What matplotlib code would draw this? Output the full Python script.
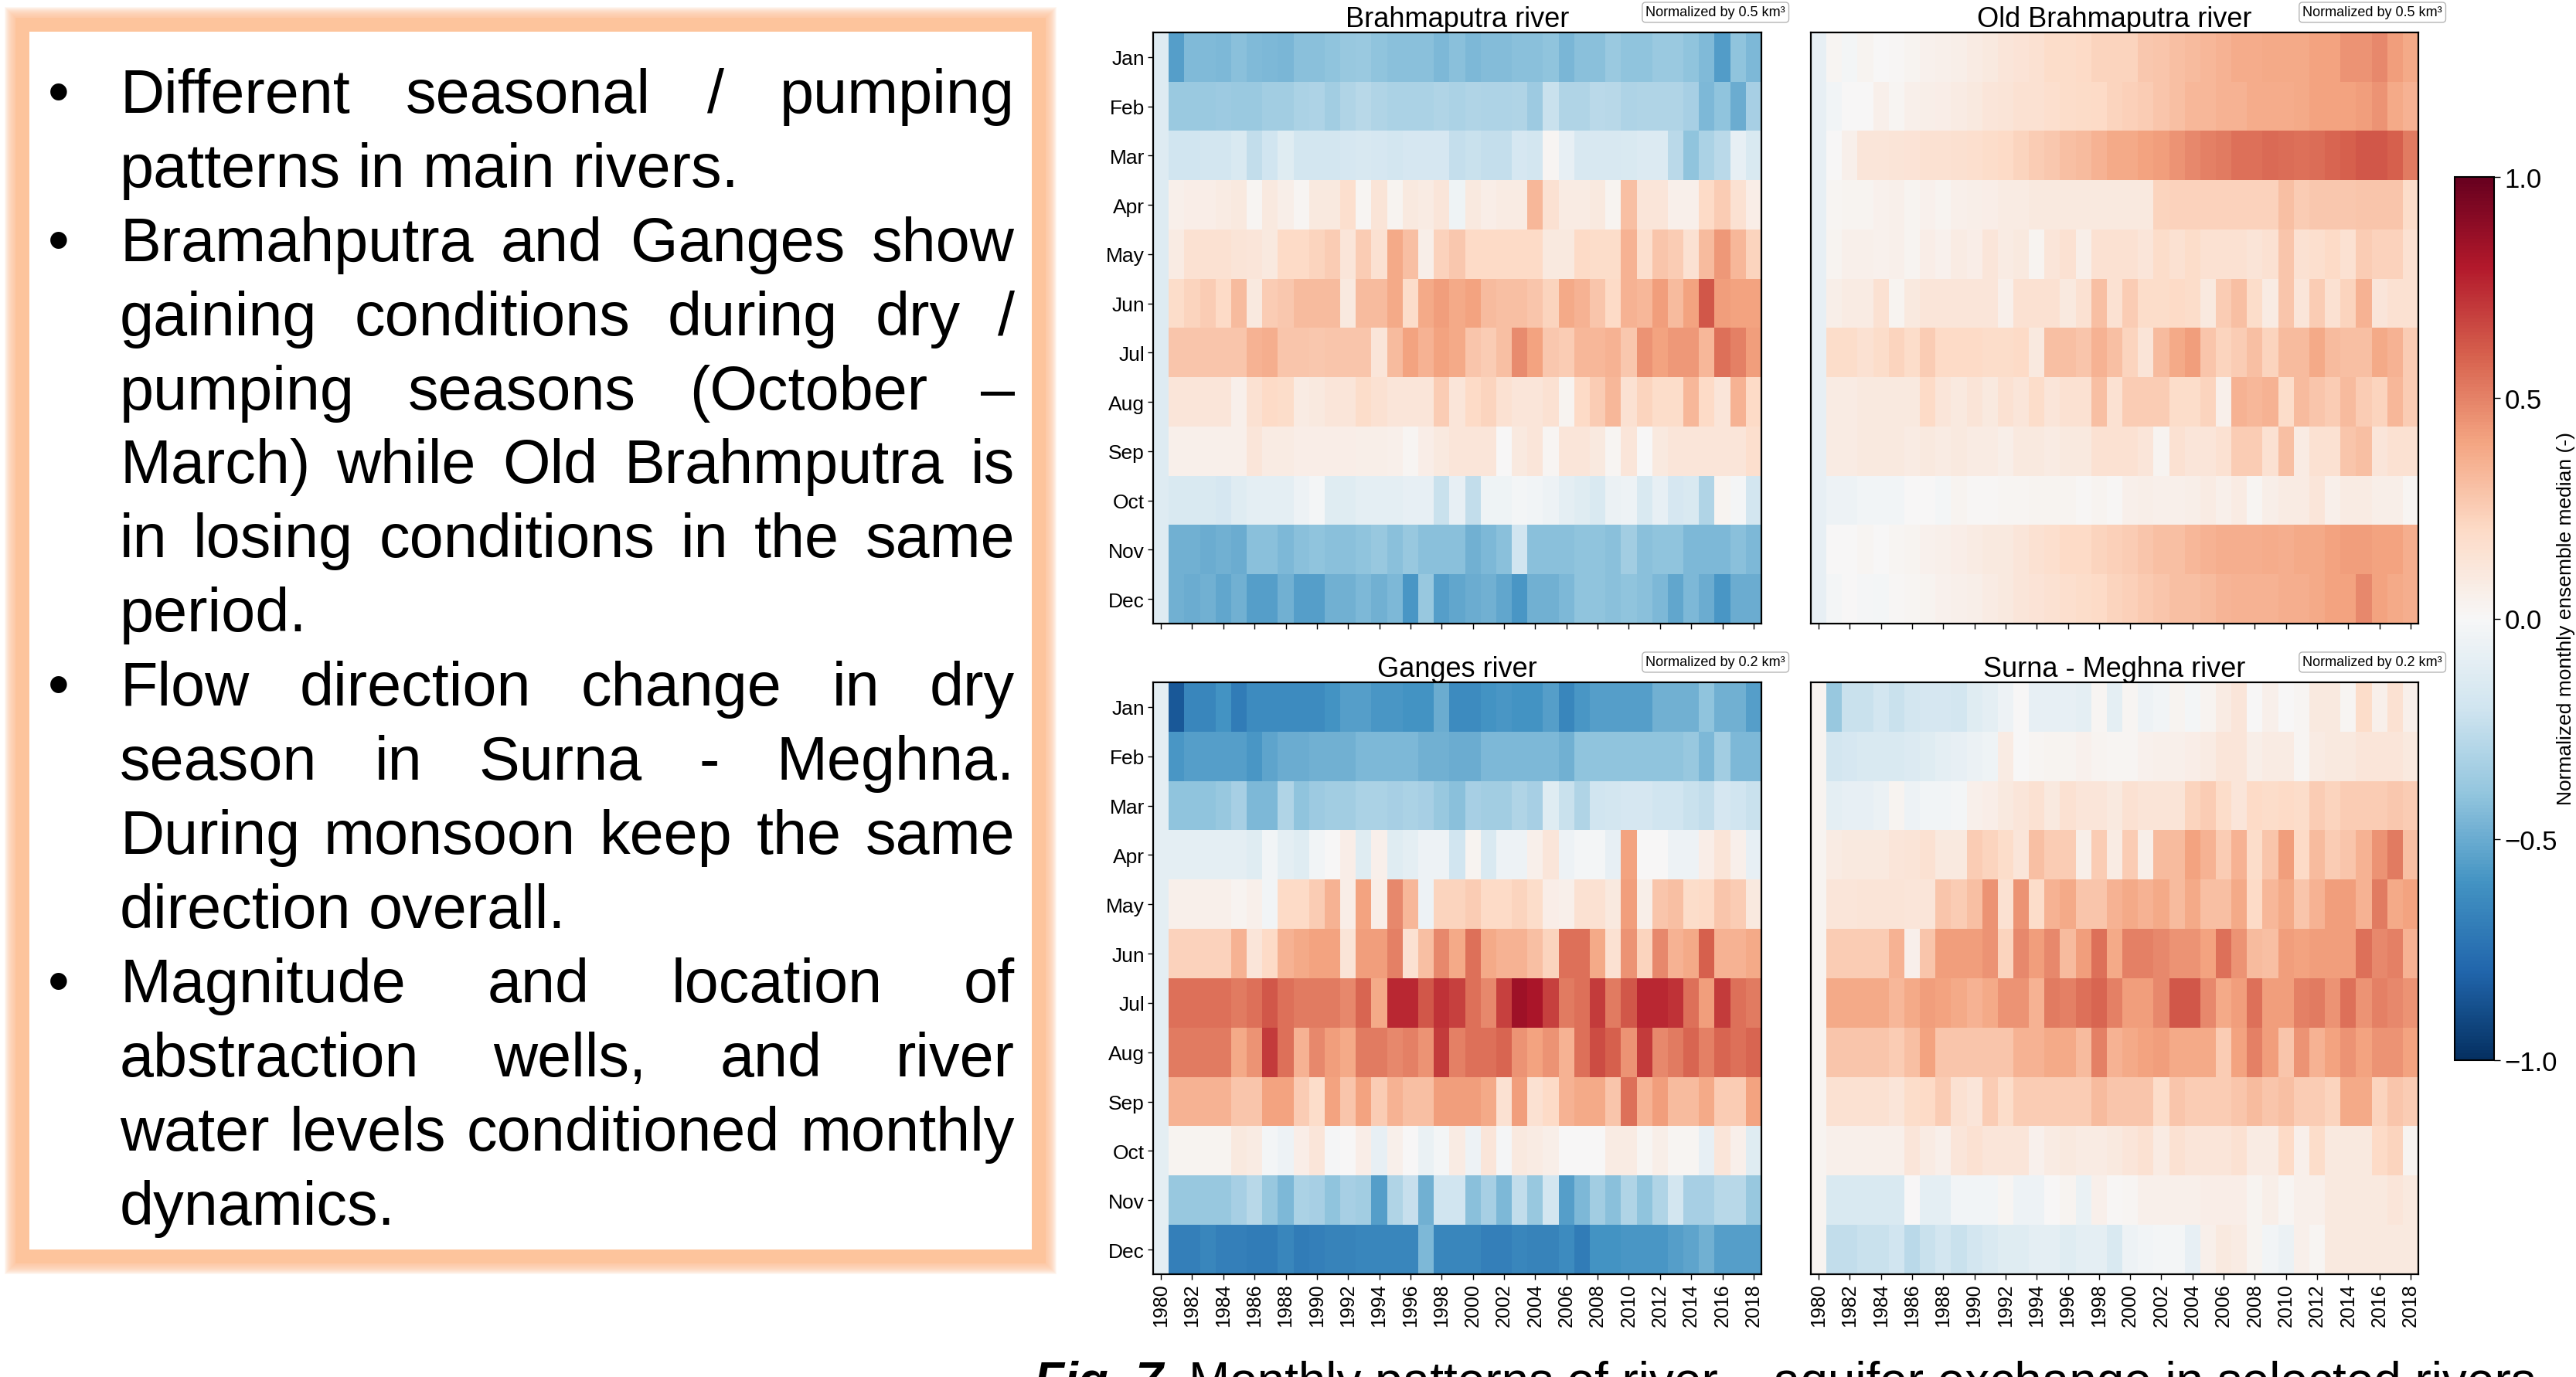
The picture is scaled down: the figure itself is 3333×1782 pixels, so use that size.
import matplotlib
matplotlib.use("Agg")
import matplotlib.pyplot as plt
import numpy as np
from matplotlib.patches import Rectangle

plt.rcParams['font.family'] = ['Liberation Sans', 'DejaVu Sans']

W, H = 3333, 1783

years = list(range(1980, 2019))
months = ["Jan", "Feb", "Mar", "Apr", "May", "Jun",
          "Jul", "Aug", "Sep", "Oct", "Nov", "Dec"]

# normalized monthly ensemble median, rows Jan..Dec, columns 1980..2018
brahmaputra = [
    [-0.13, -0.55,-0.44,-0.44,-0.45,-0.42,-0.44,-0.45,-0.46,-0.42,-0.42, -0.40,-0.38,-0.37,-0.40,-0.42,-0.42,-0.42,-0.45,-0.42,-0.45, -0.43,-0.43,-0.42,-0.42,-0.40,-0.46,-0.42,-0.42,-0.37,-0.40, -0.40,-0.37,-0.37,-0.40,-0.44,-0.56,-0.40,-0.45],
    [-0.13, -0.37,-0.37,-0.37,-0.36,-0.37,-0.37,-0.35,-0.35,-0.32,-0.31, -0.35,-0.30,-0.28,-0.30,-0.32,-0.32,-0.32,-0.30,-0.32,-0.30, -0.31,-0.31,-0.30,-0.36,-0.22,-0.30,-0.30,-0.27,-0.28,-0.31, -0.30,-0.30,-0.30,-0.33,-0.45,-0.40,-0.50,-0.33],
    [-0.13, -0.20,-0.20,-0.18,-0.18,-0.15,-0.25,-0.20,-0.12,-0.18,-0.18, -0.18,-0.17,-0.16,-0.17,-0.18,-0.17,-0.17,-0.17,-0.24,-0.22, -0.24,-0.24,-0.17,-0.18,0.02,-0.08,-0.16,-0.16,-0.16,-0.15, -0.14,-0.14,-0.27,-0.40,-0.32,-0.27,-0.08,-0.15],
    [-0.13, 0.05,0.07,0.07,0.08,0.10,0.02,0.10,0.06,0.02,0.10, 0.10,0.17,0.02,0.13,0.03,0.10,0.08,0.12,-0.04,0.10, 0.07,0.08,0.08,0.33,0.15,0.08,0.08,0.10,0.03,0.30, 0.12,0.12,0.05,0.05,0.20,0.25,0.15,0.07],
    [-0.13, 0.08,0.15,0.15,0.15,0.13,0.12,0.10,0.20,0.20,0.22, 0.25,0.12,0.25,0.15,0.38,0.30,0.06,0.23,0.27,0.20, 0.20,0.20,0.20,0.20,0.10,0.10,0.20,0.18,0.18,0.35, 0.17,0.28,0.25,0.15,0.32,0.43,0.33,0.22],
    [-0.13, 0.18,0.22,0.25,0.20,0.32,0.10,0.25,0.27,0.32,0.32, 0.32,0.10,0.32,0.32,0.38,0.18,0.38,0.42,0.38,0.40, 0.32,0.30,0.30,0.28,0.22,0.38,0.35,0.28,0.20,0.35, 0.33,0.42,0.32,0.40,0.62,0.42,0.40,0.40],
    [-0.13, 0.28,0.28,0.28,0.28,0.28,0.35,0.36,0.28,0.28,0.27, 0.28,0.28,0.28,0.12,0.32,0.40,0.35,0.40,0.38,0.28, 0.25,0.30,0.47,0.40,0.27,0.25,0.33,0.33,0.35,0.27, 0.45,0.40,0.43,0.43,0.33,0.55,0.50,0.42],
    [-0.13, 0.12,0.12,0.12,0.12,0.05,0.15,0.20,0.18,0.08,0.10, 0.12,0.12,0.18,0.15,0.12,0.12,0.12,0.25,0.12,0.20, 0.22,0.15,0.12,0.12,0.15,0.03,0.20,0.25,0.33,0.15, 0.22,0.18,0.18,0.33,0.20,0.12,0.35,0.20],
    [-0.13, 0.05,0.05,0.05,0.05,0.05,0.12,0.08,0.08,0.07,0.07, 0.07,0.07,0.06,0.06,0.05,0.02,0.07,0.10,0.12,0.12, 0.12,0.00,0.10,0.12,0.02,0.12,0.12,0.10,0.02,0.12, 0.00,0.10,0.12,0.12,0.12,0.12,0.12,0.17],
    [-0.13, -0.15,-0.15,-0.15,-0.17,-0.12,-0.10,-0.10,-0.10,-0.05,-0.02, -0.12,-0.12,-0.10,-0.10,-0.10,-0.08,-0.08,-0.22,-0.08,-0.25, -0.04,-0.04,-0.02,-0.03,-0.05,-0.10,-0.12,-0.15,-0.06,-0.05, -0.15,-0.08,-0.17,-0.15,-0.30,0.03,-0.02,-0.18],
    [-0.13, -0.48,-0.48,-0.50,-0.48,-0.50,-0.42,-0.42,-0.45,-0.42,-0.40, -0.42,-0.42,-0.40,-0.38,-0.42,-0.38,-0.42,-0.42,-0.42,-0.48, -0.45,-0.42,-0.20,-0.42,-0.42,-0.42,-0.40,-0.40,-0.42,-0.35, -0.42,-0.40,-0.40,-0.45,-0.45,-0.45,-0.42,-0.45],
    [-0.13, -0.48,-0.50,-0.48,-0.52,-0.48,-0.55,-0.55,-0.48,-0.55,-0.55, -0.48,-0.48,-0.45,-0.48,-0.45,-0.58,-0.38,-0.55,-0.52,-0.50, -0.48,-0.52,-0.58,-0.48,-0.48,-0.45,-0.40,-0.40,-0.42,-0.40, -0.42,-0.45,-0.52,-0.45,-0.50,-0.58,-0.50,-0.50],
]

old_brahmaputra = [
    [-0.08, 0.02,-0.02,0.03,0.00,0.01,0.03,0.04,0.05,0.06,0.08, 0.10,0.12,0.14,0.15,0.18,0.18,0.20,0.22,0.22,0.22, 0.27,0.28,0.30,0.32,0.33,0.35,0.37,0.37,0.38,0.38, 0.38,0.40,0.40,0.45,0.45,0.48,0.42,0.38],
    [-0.08, -0.03,0.00,0.00,0.05,0.02,0.05,0.06,0.07,0.08,0.10, 0.12,0.13,0.15,0.15,0.17,0.18,0.19,0.20,0.22,0.24, 0.25,0.28,0.30,0.33,0.33,0.35,0.35,0.37,0.37,0.37, 0.38,0.40,0.40,0.40,0.42,0.45,0.38,0.35],
    [-0.08, 0.00,0.05,0.12,0.12,0.13,0.14,0.15,0.15,0.16,0.17, 0.18,0.20,0.22,0.25,0.27,0.30,0.32,0.35,0.38,0.38, 0.40,0.42,0.45,0.48,0.50,0.52,0.55,0.55,0.57,0.56, 0.55,0.56,0.58,0.60,0.62,0.62,0.60,0.52],
    [-0.08, 0.02,0.03,0.03,0.04,0.05,0.03,0.04,0.03,0.05,0.06, 0.07,0.08,0.08,0.10,0.10,0.10,0.10,0.10,0.10,0.10, 0.10,0.22,0.23,0.23,0.23,0.23,0.23,0.23,0.23,0.30, 0.25,0.27,0.27,0.27,0.28,0.28,0.28,0.18],
    [-0.08, 0.03,0.05,0.05,0.04,0.05,0.03,0.07,0.04,0.08,0.07, 0.12,0.08,0.10,0.03,0.12,0.15,0.06,0.15,0.15,0.15, 0.12,0.18,0.15,0.18,0.15,0.15,0.15,0.13,0.15,0.28, 0.15,0.17,0.20,0.15,0.25,0.23,0.23,0.15],
    [-0.08, 0.06,0.08,0.08,0.15,0.03,0.10,0.12,0.12,0.12,0.12, 0.12,0.05,0.15,0.15,0.15,0.10,0.15,0.30,0.15,0.25, 0.18,0.18,0.20,0.18,0.10,0.25,0.30,0.18,0.08,0.28, 0.12,0.25,0.15,0.22,0.35,0.12,0.15,0.15],
    [-0.08, 0.18,0.18,0.15,0.18,0.22,0.18,0.25,0.20,0.20,0.20, 0.18,0.18,0.20,0.10,0.30,0.30,0.28,0.35,0.30,0.22, 0.13,0.32,0.38,0.42,0.28,0.22,0.25,0.30,0.22,0.32, 0.32,0.38,0.32,0.30,0.30,0.38,0.35,0.25],
    [-0.08, 0.08,0.08,0.10,0.10,0.10,0.10,0.20,0.12,0.10,0.13, 0.10,0.15,0.12,0.18,0.12,0.15,0.15,0.30,0.15,0.25, 0.25,0.25,0.18,0.18,0.22,0.05,0.35,0.33,0.35,0.18, 0.32,0.28,0.25,0.32,0.25,0.22,0.33,0.25],
    [-0.08, 0.08,0.08,0.10,0.10,0.10,0.08,0.10,0.08,0.10,0.08, 0.08,0.06,0.10,0.10,0.08,0.10,0.10,0.15,0.15,0.15, 0.12,0.03,0.15,0.12,0.12,0.15,0.25,0.25,0.15,0.30, 0.08,0.15,0.15,0.28,0.30,0.12,0.15,0.15],
    [-0.08, -0.05,-0.05,-0.03,-0.03,-0.03,0.00,0.00,-0.02,0.03,0.01, 0.01,0.02,0.02,0.03,0.03,0.03,0.01,0.03,0.01,0.05, 0.06,0.05,0.05,0.06,0.08,0.05,0.08,0.02,0.06,0.08, 0.08,0.12,0.05,0.08,0.08,0.06,0.06,0.02],
    [-0.08, 0.00,0.00,0.02,0.00,0.02,0.03,0.04,0.05,0.07,0.08, 0.10,0.10,0.12,0.15,0.17,0.20,0.20,0.22,0.24,0.25, 0.28,0.30,0.30,0.33,0.35,0.36,0.36,0.36,0.37,0.36, 0.38,0.38,0.40,0.42,0.42,0.40,0.40,0.36],
    [-0.08, -0.02,0.00,-0.01,-0.02,0.01,0.02,0.03,0.04,0.05,0.06, 0.08,0.10,0.12,0.14,0.15,0.17,0.18,0.20,0.22,0.24, 0.26,0.28,0.30,0.30,0.32,0.34,0.35,0.35,0.35,0.36, 0.36,0.38,0.40,0.40,0.48,0.40,0.38,0.36],
]

ganges = [
    [-0.10, -0.85,-0.65,-0.65,-0.60,-0.70,-0.63,-0.63,-0.63,-0.63,-0.63, -0.60,-0.55,-0.55,-0.58,-0.58,-0.60,-0.60,-0.50,-0.63,-0.63, -0.60,-0.58,-0.60,-0.60,-0.55,-0.65,-0.58,-0.55,-0.55,-0.55, -0.55,-0.48,-0.48,-0.48,-0.40,-0.48,-0.48,-0.55],
    [-0.10, -0.58,-0.55,-0.55,-0.55,-0.55,-0.58,-0.53,-0.50,-0.50,-0.48, -0.48,-0.48,-0.45,-0.45,-0.45,-0.45,-0.48,-0.48,-0.50,-0.50, -0.45,-0.45,-0.45,-0.45,-0.45,-0.48,-0.40,-0.40,-0.40,-0.40, -0.40,-0.40,-0.40,-0.38,-0.45,-0.35,-0.45,-0.45],
    [-0.10, -0.40,-0.40,-0.40,-0.38,-0.33,-0.45,-0.45,-0.30,-0.40,-0.36, -0.35,-0.35,-0.32,-0.32,-0.33,-0.32,-0.33,-0.38,-0.42,-0.33, -0.35,-0.35,-0.30,-0.33,-0.12,-0.22,-0.30,-0.20,-0.18,-0.17, -0.17,-0.20,-0.20,-0.22,-0.25,-0.17,-0.20,-0.22],
    [-0.10, -0.10,-0.10,-0.10,-0.10,-0.10,-0.12,-0.03,-0.10,-0.12,-0.03, 0.00,0.07,-0.12,0.05,-0.12,-0.10,-0.05,-0.05,-0.20,0.03, -0.15,-0.05,-0.05,0.05,0.12,-0.05,-0.02,-0.02,-0.08,0.40, 0.00,0.00,-0.05,-0.05,0.07,0.13,0.05,-0.08],
    [-0.10, 0.05,0.05,0.05,0.05,0.03,0.05,-0.03,0.20,0.20,0.25, 0.35,0.07,0.40,0.07,0.48,0.33,-0.05,0.22,0.22,0.25, 0.20,0.20,0.22,0.18,0.07,0.05,0.15,0.15,0.10,0.42, 0.06,0.28,0.30,0.18,0.20,0.28,0.25,0.10],
    [-0.10, 0.23,0.23,0.23,0.23,0.35,0.12,0.20,0.35,0.38,0.40, 0.40,0.13,0.42,0.42,0.50,0.15,0.30,0.48,0.38,0.55, 0.38,0.35,0.35,0.30,0.22,0.55,0.55,0.38,0.15,0.45, 0.22,0.48,0.35,0.38,0.60,0.35,0.35,0.38],
    [-0.10, 0.55,0.55,0.55,0.55,0.52,0.55,0.62,0.55,0.52,0.52, 0.52,0.48,0.58,0.38,0.75,0.75,0.62,0.72,0.68,0.55, 0.48,0.68,0.85,0.82,0.68,0.52,0.55,0.70,0.52,0.62, 0.75,0.75,0.72,0.55,0.42,0.70,0.55,0.52],
    [-0.10, 0.52,0.52,0.52,0.52,0.38,0.45,0.70,0.55,0.35,0.48, 0.42,0.38,0.52,0.52,0.48,0.50,0.45,0.70,0.50,0.55, 0.55,0.58,0.45,0.40,0.45,0.35,0.55,0.65,0.60,0.45, 0.70,0.48,0.52,0.58,0.50,0.58,0.55,0.58],
    [-0.10, 0.35,0.35,0.35,0.35,0.28,0.28,0.40,0.40,0.25,0.18, 0.40,0.28,0.40,0.25,0.35,0.30,0.30,0.42,0.42,0.42, 0.38,0.15,0.42,0.15,0.20,0.35,0.38,0.38,0.28,0.55, 0.35,0.42,0.32,0.32,0.38,0.25,0.25,0.40],
    [-0.10, 0.03,0.03,0.03,0.03,0.10,0.08,-0.02,-0.05,0.07,0.12, -0.01,0.00,0.07,-0.08,0.05,0.00,-0.07,-0.02,0.08,-0.05, 0.12,-0.01,0.10,0.08,0.06,0.00,0.00,0.00,0.08,0.08, 0.02,0.06,0.02,0.02,-0.08,0.12,0.05,-0.12],
    [-0.10, -0.38,-0.38,-0.38,-0.38,-0.33,-0.28,-0.38,-0.45,-0.32,-0.33, -0.40,-0.33,-0.35,-0.55,-0.30,-0.23,-0.48,-0.20,-0.20,-0.42, -0.33,-0.45,-0.25,-0.38,-0.18,-0.55,-0.45,-0.35,-0.42,-0.30, -0.40,-0.30,-0.18,-0.33,-0.33,-0.28,-0.28,-0.38],
    [-0.10, -0.68,-0.68,-0.65,-0.68,-0.68,-0.70,-0.70,-0.65,-0.70,-0.68, -0.67,-0.67,-0.65,-0.65,-0.65,-0.65,-0.45,-0.65,-0.65,-0.65, -0.68,-0.68,-0.65,-0.67,-0.67,-0.63,-0.70,-0.60,-0.60,-0.58, -0.58,-0.58,-0.55,-0.53,-0.48,-0.55,-0.55,-0.55],
]

surna_meghna = [
    [0.03, -0.38,-0.22,-0.22,-0.18,-0.22,-0.18,-0.17,-0.17,-0.18,-0.12, -0.10,-0.05,0.00,-0.08,-0.08,-0.08,-0.10,0.02,-0.10,0.02, -0.05,-0.03,0.03,-0.02,0.03,0.08,0.12,0.00,0.05,0.00, 0.02,0.10,0.10,0.02,0.18,0.05,0.15,0.05],
    [0.03, -0.18,-0.17,-0.15,-0.15,-0.15,-0.14,-0.12,-0.10,-0.08,-0.06, -0.04,0.08,0.00,0.02,0.03,0.03,0.04,0.03,0.02,0.02, 0.04,0.05,0.05,0.07,0.08,0.12,0.12,0.06,0.08,0.08, 0.02,0.08,0.10,0.10,0.12,0.12,0.12,0.10],
    [0.03, -0.10,-0.08,-0.08,-0.06,0.03,-0.05,-0.03,-0.03,-0.02,0.05, 0.07,0.10,0.12,0.15,0.10,0.15,0.12,0.12,0.10,0.15, 0.13,0.13,0.13,0.22,0.25,0.18,0.12,0.20,0.18,0.20, 0.18,0.25,0.22,0.25,0.25,0.25,0.27,0.25],
    [0.03, 0.08,0.10,0.10,0.10,0.12,0.13,0.15,0.10,0.10,0.25, 0.22,0.18,0.12,0.30,0.25,0.25,0.06,0.25,0.08,0.25, 0.06,0.32,0.32,0.40,0.35,0.25,0.35,0.18,0.28,0.42, 0.20,0.32,0.25,0.28,0.35,0.45,0.52,0.30],
    [0.03, 0.12,0.12,0.13,0.13,0.13,0.12,0.12,0.28,0.25,0.30, 0.45,0.15,0.45,0.18,0.35,0.38,0.28,0.28,0.35,0.38, 0.35,0.38,0.32,0.38,0.30,0.30,0.38,0.20,0.33,0.38, 0.28,0.35,0.42,0.42,0.35,0.52,0.38,0.40],
    [0.03, 0.25,0.25,0.25,0.25,0.35,0.05,0.28,0.42,0.42,0.42, 0.45,0.22,0.48,0.42,0.48,0.32,0.42,0.55,0.38,0.50, 0.50,0.48,0.45,0.45,0.40,0.55,0.45,0.32,0.30,0.42, 0.40,0.42,0.42,0.42,0.55,0.48,0.50,0.35],
    [0.03, 0.38,0.38,0.38,0.38,0.33,0.38,0.42,0.40,0.38,0.35, 0.38,0.45,0.45,0.35,0.52,0.50,0.55,0.58,0.50,0.42, 0.42,0.48,0.62,0.62,0.48,0.38,0.42,0.55,0.42,0.42, 0.50,0.52,0.45,0.55,0.45,0.50,0.48,0.45],
    [0.03, 0.28,0.28,0.28,0.28,0.25,0.30,0.40,0.28,0.28,0.28, 0.28,0.28,0.35,0.35,0.38,0.38,0.32,0.50,0.35,0.38, 0.40,0.42,0.38,0.38,0.38,0.25,0.40,0.50,0.42,0.28, 0.45,0.35,0.40,0.45,0.40,0.45,0.45,0.40],
    [0.03, 0.15,0.15,0.15,0.15,0.12,0.18,0.20,0.25,0.15,0.12, 0.25,0.18,0.25,0.25,0.25,0.25,0.25,0.32,0.28,0.28, 0.28,0.18,0.28,0.25,0.25,0.25,0.28,0.32,0.28,0.30, 0.25,0.25,0.22,0.38,0.38,0.22,0.28,0.25],
    [0.03, 0.05,0.05,0.05,0.05,0.05,0.12,0.08,0.05,0.12,0.15, 0.12,0.12,0.12,0.04,0.08,0.10,0.08,0.08,0.10,0.12, 0.15,0.08,0.15,0.12,0.12,0.12,0.15,0.08,0.08,0.20, 0.05,0.18,0.10,0.10,0.10,0.20,0.22,0.03],
    [0.03, -0.15,-0.15,-0.15,-0.15,-0.15,0.00,-0.10,-0.10,-0.03,-0.03, -0.03,0.02,-0.05,-0.05,0.00,0.03,-0.07,0.05,0.01,0.02, 0.05,0.05,0.05,0.05,0.07,0.07,0.07,0.03,0.06,0.02, 0.05,0.05,0.10,0.10,0.10,0.10,0.12,0.10],
    [0.03, -0.25,-0.25,-0.22,-0.22,-0.20,-0.27,-0.22,-0.18,-0.22,-0.18, -0.15,-0.12,-0.12,-0.10,-0.10,-0.12,-0.10,-0.10,-0.15,-0.05, -0.03,-0.02,-0.02,-0.08,0.05,0.10,0.08,0.03,-0.03,-0.06, 0.05,0.02,0.10,0.10,0.10,0.10,0.10,0.10],
]

titles = ["Brahmaputra river", "Old Brahmaputra river", "Ganges river", "Surna - Meghna river"]
norm_notes = ["Normalized by 0.5 km³", "Normalized by 0.5 km³",
              "Normalized by 0.2 km³", "Normalized by 0.2 km³"]

bullets = [
    ["Different seasonal / pumping", "patterns in main rivers."],
    ["Bramahputra and Ganges show", "gaining conditions during dry /",
     "pumping seasons (October –", "March) while Old Brahmputra is",
     "in losing conditions in the same", "period."],
    ["Flow direction change in dry", "season in Surna - Meghna.",
     "During monsoon keep the same", "direction overall."],
    ["Magnitude and location of", "abstraction wells, and river",
     "water levels conditioned monthly", "dynamics."],
]
caption_bold = "Fig. 7."
caption_rest = "Monthly patterns of river – aquifer exchange in selected rivers"
cbar_label = "Normalized monthly ensemble median (-)"


fig = plt.figure(figsize=(W / 100, H / 100), dpi=100)
renderer = fig.canvas.get_renderer()


def fx(px):
    return px / W


def fy(py):
    return 1 - py / H


# ---- left text box with soft orange frame
bx0, by0, bx1, by1 = 38, 42, 1335, 1618
peach = "#fdc49c"
for d in range(32, 17, -1):
    fig.patches.append(Rectangle((fx(bx0 - d), fy(by1 + d)), (bx1 - bx0 + 2 * d) / W,
                                 (by1 - by0 + 2 * d) / H, transform=fig.transFigure,
                                 fc=peach, ec="none", alpha=0.12, zorder=0))
fig.patches.append(Rectangle((fx(bx0 - 18), fy(by1 + 18)), (bx1 - bx0 + 36) / W,
                             (by1 - by0 + 36) / H, transform=fig.transFigure,
                             fc=peach, ec="none", zorder=0))
fig.patches.append(Rectangle((fx(bx0), fy(by1)), (bx1 - bx0) / W, (by1 - by0) / H,
                             transform=fig.transFigure, fc="white", ec="none", zorder=0))

fs_text = 57


def text_width(s, **kw):
    t = fig.text(0, 0, s, **kw)
    w = t.get_window_extent(renderer).width
    t.remove()
    return w


space_w = text_width("x x", fontsize=fs_text) - text_width("xx", fontsize=fs_text)
tx0, tx1 = 155, 1313
base0, pitch = 146, 95.9
line_no = 0
for para in bullets:
    for k, line in enumerate(para):
        yb = fy(base0 + pitch * line_no)
        if k == 0:
            fig.text(fx(62), yb, "•", fontsize=fs_text, va="baseline")
        words = line.split(" ")
        widths = [text_width(w, fontsize=fs_text) for w in words]
        last = k == len(para) - 1
        if last or len(words) == 1:
            gap = space_w
        else:
            gap = (tx1 - tx0 - sum(widths)) / (len(words) - 1)
        x = tx0
        for w, ww in zip(words, widths):
            fig.text(fx(x), yb, w, fontsize=fs_text, va="baseline")
            x += ww + gap
        line_no += 1

# ---- caption (cut by the bottom edge, as in the poster)
cap_y = fy(1808)
t = fig.text(fx(1338), cap_y, caption_bold, fontsize=46, fontweight="bold",
             style="italic", va="baseline")
cw = t.get_window_extent(renderer).width
fig.text(fx(1338 + cw + 15), cap_y, caption_rest, fontsize=46, va="baseline")

# ---- heatmaps
panels = [
    (brahmaputra, (1492, 43, 2279, 808), True, False),
    (old_brahmaputra, (2343, 43, 3129, 808), False, False),
    (ganges, (1492, 884, 2279, 1650), True, True),
    (surna_meghna, (2343, 884, 3129, 1650), False, True),
]

im = None
for (data, (l, t_, r, b), show_y, show_x), title, note in zip(panels, titles, norm_notes):
    arr = np.array(data)
    assert arr.shape == (12, len(years)), (title, arr.shape)
    ax = fig.add_axes([fx(l), fy(b), (r - l) / W, (b - t_) / H])
    im = ax.imshow(arr, cmap="RdBu_r", vmin=-1, vmax=1, aspect="auto",
                   interpolation="nearest",
                   extent=(years[0] - 0.5, years[-1] + 0.5, 11.5, -0.5))
    ax.set_xticks(years[::2])
    if show_x:
        ax.set_xticklabels([str(y) for y in years[::2]], rotation=90, fontsize=18)
    else:
        ax.set_xticklabels([])
    if show_y:
        ax.set_yticks(range(12))
        ax.set_yticklabels(months, fontsize=19)
    else:
        ax.set_yticks([])
    ax.tick_params(direction="out", length=5, width=1, pad=3)
    for s in ax.spines.values():
        s.set_linewidth(1.6)
    ax.set_title(title, fontsize=26, pad=4)
    ax.text((2310 - 1492) / 787, 1.034, note, transform=ax.transAxes,
            ha="right", va="center", fontsize=13,
            bbox=dict(boxstyle="round,pad=0.25", fc="white", ec="#b5b5b5", lw=1))

# ---- colour bar
cax = fig.add_axes([fx(3176), fy(1373), 51 / W, (1373 - 230) / H])
cb = fig.colorbar(im, cax=cax, ticks=[-1, -0.5, 0, 0.5, 1])
cb.ax.tick_params(labelsize=25, length=6, width=1)
cb.outline.set_linewidth(1.5)
fig.text(fx(3320), fy(801), cbar_label, rotation=90, ha="center", va="center",
         fontsize=19)

fig.savefig("out.png", dpi=100)
